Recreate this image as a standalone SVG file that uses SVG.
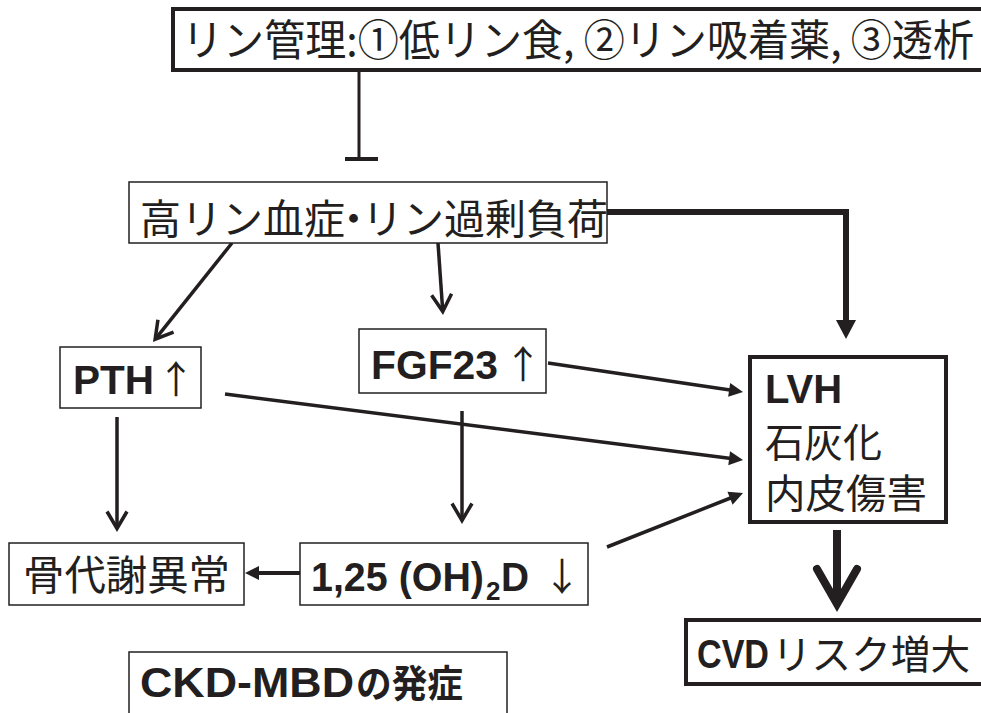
<svg xmlns="http://www.w3.org/2000/svg" width="981" height="713" viewBox="0 0 981 713">
<style>
.box{fill:#fff;stroke:#231f20;stroke-width:1.5}
.tbox{fill:#fff;stroke:#231f20;stroke-width:4}
.jp{font-family:"Noto Sans CJK JP",sans-serif;fill:#231f20}
.lat{font-family:"Liberation Sans","Noto Sans CJK JP",sans-serif;font-weight:bold;fill:#231f20}
.ln{stroke:#231f20;stroke-width:3.5;fill:none}
</style>
<defs>
<marker id="chev" viewBox="-20 -14 30 28" markerWidth="30" markerHeight="28" refX="0" refY="0" orient="auto" markerUnits="userSpaceOnUse" overflow="visible">
<path d="M-14.5,-10 L2.5,0 L-14.5,10" fill="none" stroke="#231f20" stroke-width="3.5" stroke-linejoin="miter"/>
</marker>
<marker id="tri" viewBox="-8 -8 18 16" markerWidth="18" markerHeight="16" refX="0" refY="0" orient="auto" markerUnits="userSpaceOnUse" overflow="visible">
<path d="M-6,-7 L8,0 L-6,7 Z" fill="#231f20"/>
</marker>
<marker id="tri2" viewBox="-10 -11 22 22" markerWidth="22" markerHeight="22" refX="0" refY="0" orient="auto" markerUnits="userSpaceOnUse" overflow="visible">
<path d="M-9,-10 L10,0 L-9,10 Z" fill="#231f20"/>
</marker>
</defs>

<g id="connectors">
<line x1="359" y1="72" x2="359" y2="159" stroke="#231f20" stroke-width="3"/>
<line x1="345" y1="159" x2="378" y2="159" stroke="#231f20" stroke-width="4"/>
<path d="M607,212 H846 V329" fill="none" stroke="#231f20" stroke-width="6" stroke-linejoin="miter" marker-end="url(#tri2)"/>
<line class="ln" x1="232" y1="243" x2="156.7" y2="337.3" marker-end="url(#chev)"/>
<line class="ln" x1="438" y1="243" x2="442.6" y2="309" marker-end="url(#chev)"/>
<line class="ln" x1="548" y1="363" x2="735.1" y2="390.8" marker-end="url(#tri)"/>
<line class="ln" x1="225" y1="394" x2="735.1" y2="459" marker-end="url(#tri)"/>
<line class="ln" x1="607" y1="547" x2="735.6" y2="496" marker-end="url(#tri)"/>
<line class="ln" x1="117" y1="417" x2="117" y2="526" marker-end="url(#chev)"/>
<line class="ln" x1="462" y1="411" x2="462" y2="518" marker-end="url(#chev)"/>
<line x1="300" y1="573" x2="253" y2="573" stroke="#231f20" stroke-width="4" marker-end="url(#tri)"/>
<line x1="837" y1="530" x2="837" y2="598" stroke="#231f20" stroke-width="8"/>
<polyline points="817,569 837,604 857,569" fill="none" stroke="#231f20" stroke-width="8" stroke-linecap="round" stroke-linejoin="miter"/>
</g>

<g id="top">
<rect class="tbox" x="173" y="9" width="830" height="61"/>
<text class="jp" x="182" y="56" font-size="43" textLength="792" lengthAdjust="spacingAndGlyphs">リン管理:①低リン食, ②リン吸着薬, ③透析</text>
</g>

<g id="hyperP">
<rect class="box" x="129" y="182" width="478" height="61"/>
<text class="jp" x="140" y="234" font-size="41">高リン血症<tspan dx="-12">・</tspan><tspan dx="-12">リン過剰負荷</tspan></text>
</g>

<g id="pth">
<rect class="box" x="60" y="347" width="141" height="61"/>
<text class="lat" x="73" y="394" font-size="40" textLength="81" lengthAdjust="spacingAndGlyphs">PTH</text>
<text class="jp" x="176" y="393" font-size="38" text-anchor="middle">↑</text>
</g>

<g id="fgf23">
<rect class="box" x="359" y="329" width="187" height="64"/>
<text class="lat" x="371" y="379" font-size="41" textLength="127" lengthAdjust="spacingAndGlyphs">FGF23</text>
<text class="jp" x="523" y="378" font-size="38" text-anchor="middle">↑</text>
</g>

<g id="lvh">
<rect class="tbox" x="750" y="357" width="196" height="165"/>
<text class="lat" x="765" y="403" font-size="40">LVH</text>
<text class="jp" x="765" y="457" font-size="40" textLength="117" lengthAdjust="spacingAndGlyphs">石灰化</text>
<text class="jp" x="765" y="508" font-size="40" textLength="162" lengthAdjust="spacingAndGlyphs">内皮傷害</text>
</g>

<g id="bone">
<rect class="box" x="9" y="543" width="235" height="62"/>
<text class="jp" x="23" y="590" font-size="41" textLength="207" lengthAdjust="spacingAndGlyphs">骨代謝異常</text>
</g>

<g id="vitd">
<rect class="box" x="300" y="543" width="288" height="62"/>
<text class="lat" x="311" y="591" font-size="41" textLength="173" lengthAdjust="spacingAndGlyphs">1,25 (OH)</text>
<text class="lat" x="486" y="600" font-size="26">2</text>
<text class="lat" x="501" y="591" font-size="41" textLength="28" lengthAdjust="spacingAndGlyphs">D</text>
<text class="jp" x="562" y="590" font-size="38" text-anchor="middle">↓</text>
</g>

<g id="cvd">
<rect class="tbox" x="686" y="620" width="310" height="64"/>
<text class="lat" x="697" y="668" font-size="40" textLength="72" lengthAdjust="spacingAndGlyphs">CVD</text>
<text class="jp" x="772" y="669" font-size="40" textLength="198" lengthAdjust="spacingAndGlyphs">リスク増大</text>
</g>

<g id="ckdmbd">
<rect class="box" x="129" y="652" width="378" height="80"/>
<text class="lat" x="140" y="697" font-size="43" textLength="214" lengthAdjust="spacingAndGlyphs">CKD-MBD</text>
<text class="jp" x="356" y="697" font-size="38" font-weight="bold" textLength="107" lengthAdjust="spacingAndGlyphs">の発症</text>
</g>
</svg>
